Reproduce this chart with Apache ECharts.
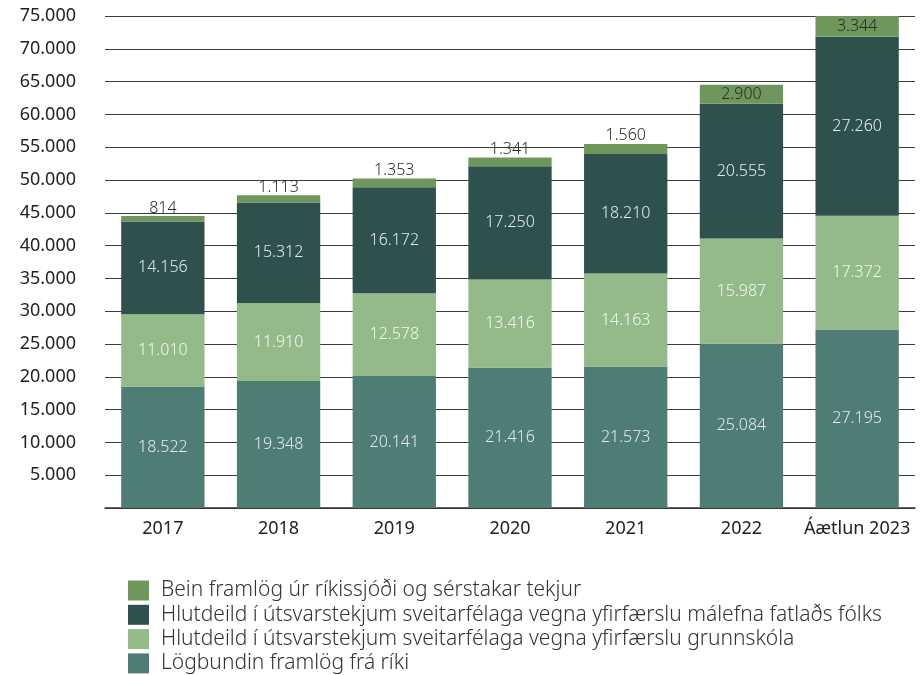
<!DOCTYPE html>
<html>
<head>
<meta charset="utf-8">
<script src="https://cdn.jsdelivr.net/npm/echarts@6/dist/echarts.min.js"></script>
<style>
  html, body { margin: 0; padding: 0; background: #fff; }
  #main { width: 922px; height: 675px; }
</style>
</head>
<body>
<div id="main"></div>
<script>
// ár / flokkar
var years = ['2017', '2018', '2019', '2020', '2021', '2022', 'Áætlun 2023'];
var names = [
    'Bein framlög úr ríkissjóði og sérstakar tekjur',
    'Hlutdeild í útsvarstekjum sveitarfélaga vegna yfirfærslu málefna fatlaðs fólks',
    'Hlutdeild í útsvarstekjum sveitarfélaga vegna yfirfærslu grunnskóla',
    'Lögbundin framlög frá ríki'
];
var logbundin = [18522, 19348, 20141, 21416, 21573, 25084, 27195];
var grunnskoli = [11010, 11910, 12578, 13416, 14163, 15987, 17372];
var fatladir = [14156, 15312, 16172, 17250, 18210, 20555, 27260];
var bein = [814, 1113, 1353, 1341, 1560, 2900, 3344];

var font = 'Noto Sans';

// íslensk talnasnið: 18.522
function isl(v) {
    return String(v).replace(/\B(?=(\d{3})+(?!\d))/g, '.');
}

var myChart = echarts.init(document.getElementById('main'));

function bar(name, data, color, labelColor) {
    return {
        name: name,
        type: 'bar',
        stack: 'total',
        barWidth: '72%',
        data: data,
        itemStyle: { color: color },
        label: {
            show: true,
            position: 'inside',
            color: labelColor,
            fontFamily: font,
            fontWeight: 300,
            fontSize: 16,
            formatter: function (p) { return isl(p.value); }
        }
    };
}

// efsti flokkur: litlar tölur fyrir ofan súlu, stærri inni í henni
var beinData = bein.map(function (v) {
    return {
        value: v,
        label: v < 2000 ? { position: 'top', distance: 0 } : { position: 'inside' }
    };
});

var option = {
    animation: false,
    textStyle: { fontFamily: font },
    grid: { left: 105, right: 7, top: 16, bottom: 167 },
    legend: {
        orient: 'vertical',
        left: 128,
        top: 580,
        height: 95,
        padding: 0,
        itemWidth: 21,
        itemHeight: 20,
        itemGap: 3.3,
        icon: 'rect',
        textStyle: {
            color: '#333', fontSize: 21, lineHeight: 20, fontFamily: font, fontWeight: 300,
            padding: [0, 0, 0, 7]
        },
        data: names
    },
    xAxis: {
        type: 'category',
        data: years,
        axisTick: { show: false },
        axisLine: { lineStyle: { color: '#333', width: 1.5 } },
        axisLabel: { color: '#222', fontSize: 18, margin: 12, interval: 0, fontFamily: font }
    },
    yAxis: {
        type: 'value',
        min: 0,
        max: 75000,
        interval: 5000,
        axisLine: { show: false },
        axisTick: { show: false },
        splitLine: { lineStyle: { color: '#3c3c3c', width: 1 } },
        axisLabel: {
            color: '#222',
            fontSize: 18,
            margin: 29,
            fontFamily: font,
            formatter: function (v) { return v === 0 ? '' : isl(v); }
        }
    },
    series: [
        bar(names[3], logbundin, '#4d7d75', '#e6ece9'),
        bar(names[2], grunnskoli, '#93ba88', '#f4f6f2'),
        bar(names[1], fatladir, '#2e514d', '#e6ece9'),
        bar(names[0], beinData, '#6f975c', '#2a2a2a')
    ]
};

myChart.setOption(option);
</script>
</body>
</html>
